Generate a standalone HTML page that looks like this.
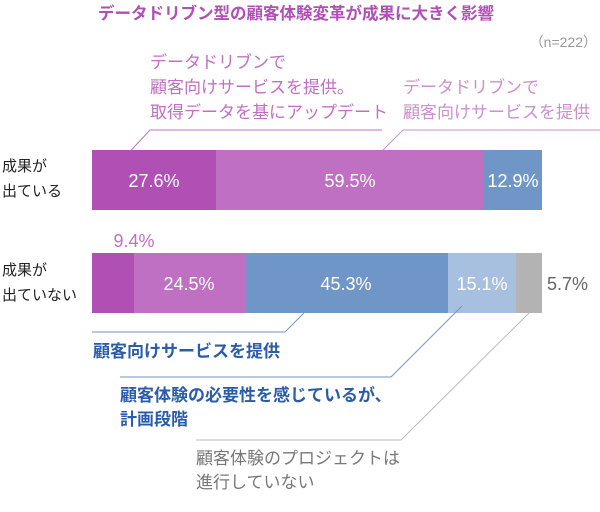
<!DOCTYPE html>
<html><head><meta charset="utf-8"><style>
body{margin:0;background:#fff}
svg text{font-family:"Liberation Sans","Noto Sans CJK JP",sans-serif}
</style></head><body>
<svg width="600" height="507" xmlns="http://www.w3.org/2000/svg">
<text x="98" y="19" font-size="16.5" font-weight="bold" fill="#b04fb4">データドリブン型の顧客体験変革が成果に大きく影響</text>
<text x="597" y="47" font-size="14" fill="#999" text-anchor="end">（n=222）</text>
<g font-size="17" fill="#c070c3">
<text x="150" y="68">データドリブンで</text>
<text x="150" y="93">顧客向けサービスを提供。</text>
<text x="150" y="118">取得データを基にアップデート</text>
<text x="403" y="93" fill="#cc8fd0">データドリブンで</text>
<text x="403" y="118" fill="#cc8fd0">顧客向けサービスを提供</text>
</g>
<g stroke-width="1" fill="none">
<polyline points="382,130 150,130 124,158" stroke="#c070c3"/>
<polyline points="600,130 403,130 383,150" stroke="#cc8fd0"/>
</g>
<g font-size="15" fill="#222">
<text x="2" y="171">成果が</text><text x="2" y="196">出ている</text>
<text x="2" y="275">成果が</text><text x="2" y="300">出ていない</text>
</g>
<rect x="92" y="150" width="124" height="60" fill="#b04fb4"/>
<rect x="216" y="150" width="268" height="60" fill="#c070c3"/>
<rect x="484" y="150" width="58" height="60" fill="#7096c7"/>
<rect x="92" y="253" width="42" height="60" fill="#b04fb4"/>
<rect x="134" y="253" width="111" height="60" fill="#c070c3"/>
<rect x="245" y="253" width="203" height="60" fill="#7096c7"/>
<rect x="448" y="253" width="68" height="60" fill="#a8c0e0"/>
<rect x="516" y="253" width="26" height="60" fill="#b3b3b3"/>
<g font-size="18" fill="#fff" text-anchor="middle">
<text x="154" y="187">27.6%</text>
<text x="350" y="187">59.5%</text>
<text x="513" y="187">12.9%</text>
<text x="189" y="290">24.5%</text>
<text x="346" y="290">45.3%</text>
<text x="482" y="290">15.1%</text>
</g>
<text x="134" y="247" font-size="18" fill="#c070c3" text-anchor="middle">9.4%</text>
<text x="547" y="290" font-size="18" fill="#666">5.7%</text>
<g fill="none" stroke-width="1">
<polyline points="304,313 285,332 92,332" stroke="#7096c7"/>
<polyline points="462,306 391,377 120,377" stroke="#7096c7"/>
<polyline points="529,313 401,440 196,440" stroke="#bbb"/>
</g>
<g font-size="17">
<text x="93" y="357" fill="#2a5ca8" font-weight="bold">顧客向けサービスを提供</text>
<text x="120" y="401" fill="#2a5ca8" font-weight="bold">顧客体験の必要性を感じているが、</text>
<text x="120" y="425" fill="#2a5ca8" font-weight="bold">計画段階</text>
<text x="196" y="464" fill="#777">顧客体験のプロジェクトは</text>
<text x="196" y="488" fill="#777">進行していない</text>
</g>
</svg>
</body></html>
